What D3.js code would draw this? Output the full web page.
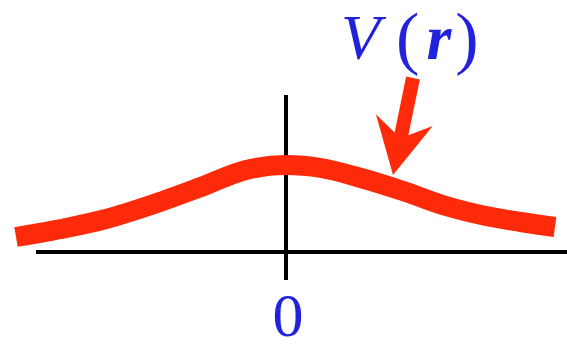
<!DOCTYPE html>
<html><head><meta charset="utf-8">
<script src="https://cdn.jsdelivr.net/npm/d3@7"></script>
<style>html,body{margin:0;padding:0;background:#fff;}svg{display:block;}</style>
</head><body>
<script>
// Data (r in arbitrary units, V(r) in arbitrary units)
const rValues = [-5.4, -4.4, -3.6, -2.7, -1.7, -0.8, 0, 0.7, 1.5, 2.4, 3.2, 4.0, 4.7, 5.38];
const vValues = [0.15, 0.24, 0.33, 0.47, 0.65, 0.82, 0.87, 0.84, 0.74, 0.60, 0.46, 0.36, 0.30, 0.25];
const axisRange = [-5.0, 5.62];          // horizontal axis extent
const vAxisRange = [-0.28, 1.57];        // vertical axis extent
const tickLabels = ["0"];
const tickValues = [0];
const labelText = ["V", "(", "r", ")"];
const arrowFrom = [2.54, 1.74];          // arrow tail (r, V)
const arrowTo = [2.14, 0.77];            // arrow tip (r, V)

const W = 567, H = 344;
const svg = d3.select("body").append("svg").attr("width", W).attr("height", H);

const x = d3.scaleLinear().domain([0, 1]).range([286, 336]);
const y = d3.scaleLinear().domain([0, 1]).range([252, 152]);

const red = "#ff2a0a", blue = "#2222dc";
const serif = "'Liberation Serif', 'DejaVu Serif', serif";

// axes
svg.append("line")
  .attr("x1", x(axisRange[0])).attr("x2", x(axisRange[1]))
  .attr("y1", y(0)).attr("y2", y(0))
  .attr("stroke", "#000").attr("stroke-width", 4);
svg.append("line")
  .attr("x1", x(0)).attr("x2", x(0))
  .attr("y1", y(vAxisRange[0])).attr("y2", y(vAxisRange[1]))
  .attr("stroke", "#000").attr("stroke-width", 4);

// tick label
svg.selectAll(".tick").data(tickValues).join("text")
  .style("font-family", serif)
  .attr("x", d => x(d) + 2).attr("y", 336)
  .attr("text-anchor", "middle")
  .style("font-size", "62px").attr("fill", blue)
  .text((d, i) => tickLabels[i]);

// curve
const pts = rValues.map((r, i) => [r, vValues[i]]);
const line = d3.line().x(d => x(d[0])).y(d => y(d[1])).curve(d3.curveMonotoneX);
svg.append("path").attr("d", line(pts))
  .attr("fill", "none").attr("stroke", red).attr("stroke-width", 20)
  .attr("stroke-linecap", "butt").attr("stroke-linejoin", "round");

// arrow
const t = [x(arrowTo[0]), y(arrowTo[1])], f = [x(arrowFrom[0]), y(arrowFrom[1])];
const dx = t[0] - f[0], dy = t[1] - f[1], len = Math.hypot(dx, dy);
const u = [dx / len, dy / len], n = [u[1], -u[0]];
const P = (back, side) => [t[0] - u[0] * back + n[0] * side, t[1] - u[1] * back + n[1] * side];
const sw = 7, headBack = 56, headHalf = 29, notch = 40;
const poly = [
  P(len, -sw), P(notch + 2, -sw), P(headBack, -headHalf), P(0, 0),
  P(headBack, headHalf), P(notch + 2, sw), P(len, sw)
];
svg.append("path").attr("d", "M" + poly.map(p => p.join(",")).join("L") + "Z").attr("fill", red);

// label V(r)
const lbl = svg.append("text").style("font-family", serif).attr("x", 341).attr("y", 59)
  .style("font-size", "64px").attr("fill", blue);
lbl.append("tspan").style("font-style", "italic").text(labelText[0]);
lbl.append("tspan").attr("dx", 16).attr("dy", 2).style("font-size", "70px").style("font-weight", "300").text(labelText[1]);
lbl.append("tspan").attr("dx", 7).attr("dy", -2).style("font-style", "italic").style("font-weight", "bold").text(labelText[2]);
lbl.append("tspan").attr("dx", 4).attr("dy", 2).style("font-size", "70px").text(labelText[3]);
</script>
</body></html>
